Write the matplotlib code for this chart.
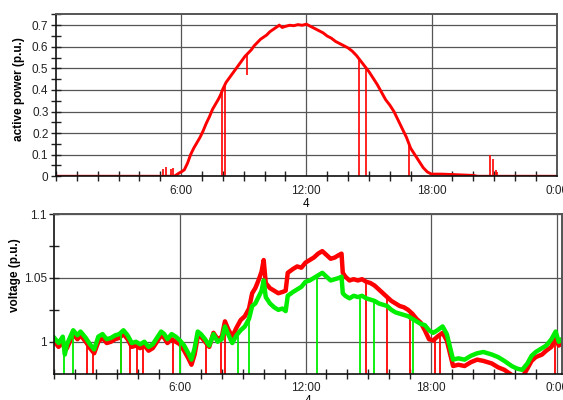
import matplotlib
matplotlib.use('Agg')
import matplotlib.pyplot as plt
from matplotlib.ticker import MultipleLocator, FixedLocator
import numpy as np

plt.rcParams['font.family'] = ['Liberation Sans', 'DejaVu Sans']

# ---- active power (hours, p.u.) ----
power_t = [0, 5.0, 5.65, 5.75, 5.9, 6.0, 6.15, 6.3, 6.45, 6.6, 6.75, 6.9, 7.05, 7.2, 7.35,
           7.5, 7.65, 7.8, 7.9, 8.0, 8.15, 8.3, 8.45, 8.6, 8.75, 8.9, 9.05, 9.2, 9.35,
           9.5, 9.65, 9.8, 9.95, 10.1, 10.25, 10.4, 10.55, 10.7, 10.85, 11.0, 11.2,
           11.4, 11.6, 11.8, 12.0, 12.2, 12.4, 12.6, 12.8, 13.0, 13.2, 13.4, 13.6,
           13.8, 14.0, 14.2, 14.4, 14.6, 14.8, 15.0, 15.2, 15.4, 15.6, 15.8, 16.0,
           16.2, 16.4, 16.6, 16.8, 17.0, 17.2, 17.4, 17.6, 17.8, 18.0, 18.5, 19.0,
           19.5, 20.0, 20.2, 24]
power_v = [0, 0, 0, 0.005, 0.015, 0.02, 0.03, 0.06, 0.10, 0.13, 0.155, 0.18, 0.21, 0.245,
           0.275, 0.31, 0.335, 0.36, 0.38, 0.405, 0.435, 0.455, 0.475, 0.495, 0.515,
           0.535, 0.555, 0.57, 0.585, 0.605, 0.62, 0.635, 0.645, 0.655, 0.67, 0.68,
           0.69, 0.70, 0.69, 0.695, 0.70, 0.698, 0.703, 0.70, 0.705, 0.695, 0.685,
           0.675, 0.665, 0.65, 0.64, 0.625, 0.615, 0.605, 0.595, 0.58, 0.56, 0.535,
           0.51, 0.485, 0.455, 0.425, 0.39, 0.355, 0.33, 0.30, 0.26, 0.22, 0.18, 0.13,
           0.10, 0.07, 0.04, 0.02, 0.01, 0.01, 0.008, 0.006, 0.004, 0, 0]
# short upward bursts near dawn / evening
pow_up_t = [5.15, 5.25, 5.5, 5.6, 20.8, 20.95, 21.08, 21.15]
pow_up_v = [0.035, 0.045, 0.035, 0.04, 0.1, 0.08, 0.03, 0.02]
# drop-outs (from curve to bottom)
pow_drop_t = [7.94, 8.1, 14.5, 14.85, 16.9]
pow_drop_bot = [0, 0, 0, 0, 0]
pow_dip_t = [9.14]
pow_dip_bot = [0.47]

# ---- voltage (hours, p.u.) ----
volt_t = [0.0, 0.2, 0.4, 0.5, 0.6, 0.9, 1.1, 1.25, 1.5, 1.7, 1.9, 2.1, 2.3, 2.5, 2.7, 2.9,
          3.1, 3.3, 3.5, 3.7, 3.9, 4.1, 4.3, 4.5, 4.7, 4.9, 5.1, 5.25, 5.4, 5.6, 5.8,
          6.0, 6.2, 6.4, 6.55, 6.7, 6.85, 7.0, 7.2, 7.4, 7.6, 7.8, 8.0, 8.15, 8.3, 8.5,
          8.7, 8.9, 9.1, 9.3, 9.45, 9.6, 9.75, 9.9, 10.0, 10.1, 10.3, 10.5, 10.7, 10.9,
          11.05, 11.15, 11.4, 11.6, 11.8, 12.0, 12.2, 12.4, 12.6, 12.8, 13.0, 13.2,
          13.4, 13.6, 13.72, 13.78, 13.9, 14.1, 14.3, 14.5, 14.7, 14.9, 15.1, 15.3,
          15.5, 15.7, 15.9, 16.1, 16.3, 16.5, 16.7, 16.9, 17.1, 17.3, 17.5, 17.7,
          17.9, 18.1, 18.3, 18.55, 18.75, 18.9, 19.05, 19.3, 19.6, 19.9, 20.2, 20.5,
          20.9, 21.2, 21.5, 21.85, 22.1, 22.35, 22.6, 22.8, 23.0, 23.3, 23.5, 23.75,
          23.95, 24.1, 24.24]
volt_green = [1.003, 0.999, 1.004, 0.990, 0.998, 1.009, 1.005, 1.008, 1.003, 0.998, 0.994,
              1.004, 1.006, 1.002, 1.003, 1.005, 1.006, 1.009, 1.005, 0.999, 1.000, 0.998,
              1.000, 0.996, 0.998, 1.003, 1.008, 1.006, 1.002, 1.006, 1.004, 1.001, 0.997,
              0.991, 0.986, 0.995, 1.008, 1.006, 1.002, 0.997, 1.006, 1.000, 1.002, 1.012,
              1.006, 0.999, 1.005, 1.009, 1.012, 1.018, 1.028, 1.030, 1.035, 1.040, 1.048,
              1.035, 1.030, 1.027, 1.025, 1.026, 1.024, 1.036, 1.039, 1.041, 1.043, 1.047,
              1.048, 1.050, 1.052, 1.054, 1.051, 1.048, 1.049, 1.050, 1.051, 1.038, 1.036,
              1.034, 1.036, 1.035, 1.036, 1.034, 1.033, 1.032, 1.030, 1.029, 1.028, 1.025,
              1.023, 1.022, 1.021, 1.020, 1.018, 1.016, 1.014, 1.013, 1.009, 1.007, 1.009,
              1.012, 1.006, 0.996, 0.986, 0.987, 0.986, 0.989, 0.991, 0.992, 0.990, 0.988,
              0.985, 0.981, 0.979, 0.978, 0.983, 0.989, 0.992, 0.995, 0.997, 1.002, 1.008,
              1.000, 1.002]
volt_red = [1.000, 0.996, 1.000, 0.993, 0.995, 1.006, 1.002, 1.005, 1.000, 0.995, 0.991,
            1.000, 1.003, 0.999, 1.000, 1.002, 1.003, 1.006, 1.002, 0.996, 0.997, 0.995,
            0.997, 0.993, 0.995, 1.000, 1.005, 1.003, 0.999, 1.002, 1.000, 0.998, 0.993,
            0.987, 0.982, 0.990, 1.004, 1.004, 1.000, 0.996, 1.007, 1.002, 1.004, 1.016,
            1.010, 1.004, 1.011, 1.017, 1.020, 1.026, 1.038, 1.042, 1.048, 1.055, 1.064,
            1.046, 1.042, 1.040, 1.038, 1.039, 1.040, 1.054, 1.057, 1.059, 1.058, 1.062,
            1.064, 1.066, 1.069, 1.071, 1.068, 1.065, 1.066, 1.068, 1.069, 1.054, 1.051,
            1.048, 1.049, 1.048, 1.049, 1.047, 1.046, 1.044, 1.041, 1.038, 1.035, 1.032,
            1.030, 1.028, 1.027, 1.025, 1.022, 1.018, 1.015, 1.009, 1.002, 1.001, 1.004,
            1.007, 1.001, 0.991, 0.981, 0.982, 0.981, 0.984, 0.986, 0.985, 0.983, 0.980,
            0.978, 0.974, 0.972, 0.972, 0.979, 0.985, 0.988, 0.990, 0.993, 0.996, 1.003,
            0.997, 0.999]
green_drop_t = [0.45, 0.9, 3.2, 6.0, 8.79, 9.31, 12.53, 14.6, 15.27, 17.15]
red_drop_t = [1.55, 1.86, 3.2, 3.6, 3.93, 4.25, 5.65, 7.24, 7.95, 8.15, 14.89, 15.9,
              16.99, 18.18, 18.42, 23.9]

hour_ticks = [6, 12, 18, 24]
hour_labels = ['6:00', '12:00', '18:00', '0:00']

RED = '#ff0000'
GREEN = '#00ee00'
GRID = '#555555'


def style_axes(ax):
    ax.xaxis.set_major_locator(FixedLocator(hour_ticks))
    ax.set_xticklabels(hour_labels)
    ax.xaxis.set_minor_locator(MultipleLocator(1))
    ax.tick_params(which='both', direction='inout', labelsize=8.5, width=1, colors='#222222')
    ax.tick_params(which='major', length=0, axis='x', pad=6)
    ax.tick_params(which='minor', length=7, axis='x')
    ax.tick_params(which='both', axis='y', length=7, pad=2)
    ax.grid(True, which='major', color=GRID, lw=0.9)
    for s in ['top', 'right']:
        ax.spines[s].set_color('#555555')
        ax.spines[s].set_linewidth(1.4)
    for s in ['left', 'bottom']:
        ax.spines[s].set_color('#111111')
        ax.spines[s].set_linewidth(1.2)
    ax.set_axisbelow(True)


fig = plt.figure(figsize=(5.63, 4.0), dpi=100)

# ---- top: active power ----
ax1 = fig.add_axes([0.0995, 0.5593, 0.8893, 0.4045])
ax1.plot(power_t, power_v, color=RED, lw=2.1, solid_joinstyle='miter')
ax1.vlines(pow_up_t, 0, pow_up_v, color=RED, lw=1.2)
ax1.vlines(pow_drop_t, pow_drop_bot, np.interp(pow_drop_t, power_t, power_v), color=RED, lw=1.2)
ax1.vlines(pow_dip_t, pow_dip_bot, np.interp(pow_dip_t, power_t, power_v), color=RED, lw=1.2)
ax1.set_xlim(0, 24)
ax1.set_ylim(0, 0.75)
ax1.yaxis.set_minor_locator(MultipleLocator(0.05))
ax1.set_yticks([0, 0.1, 0.2, 0.3, 0.4, 0.5, 0.6, 0.7])
ax1.set_yticklabels(['0', '0.1', '0.2', '0.3', '0.4', '0.5', '0.6', '0.7'])
style_axes(ax1)
ax1.set_ylabel('active power (p.u.)', fontsize=8.5, fontweight='bold')
ax1.yaxis.set_label_coords(-0.062, 0.54)
ax1.set_xlabel('4', fontsize=8.5, labelpad=1)

# ---- bottom: voltage ----
ax2 = fig.add_axes([0.0966, 0.0658, 0.9011, 0.399])
ax2.plot(volt_t, volt_red, color=RED, lw=3.2)
ax2.vlines(red_drop_t, 0.97, np.interp(red_drop_t, volt_t, volt_red), color=RED, lw=1.3)
ax2.plot(volt_t, volt_green, color=GREEN, lw=3.2)
ax2.vlines(green_drop_t, 0.97, np.interp(green_drop_t, volt_t, volt_green), color=GREEN, lw=1.3)
ax2.set_xlim(0, 24.24)
ax2.set_ylim(0.975, 1.1)
ax2.set_yticks([1.0, 1.05, 1.1])
ax2.set_yticklabels(['1', '1.05', '1.1'])
ax2.yaxis.set_minor_locator(FixedLocator([1.025, 1.075]))
style_axes(ax2)
ax2.set_ylabel('voltage (p.u.)', fontsize=8.5, fontweight='bold')
ax2.yaxis.set_label_coords(-0.066, 0.62)
ax2.set_xlabel('4', fontsize=8.5, labelpad=1)

fig.savefig('out.png', dpi=100)
